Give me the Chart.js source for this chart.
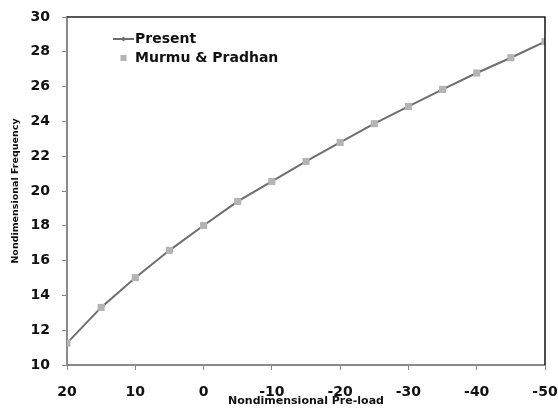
<!DOCTYPE html>
<html>
<head>
<meta charset="utf-8">
<script src="https://cdn.jsdelivr.net/npm/chart.js@4"></script>
<style>
  html, body { margin: 0; padding: 0; background: #fff; }
  #wrap { width: 558px; height: 408px; }
</style>
</head>
<body>
<div id="wrap"><canvas id="grafica" width="558" height="408"></canvas></div>
<script>
// Pre-carga adimensional (eje x invertido: de 20 a -50)
const preCarga = [20, 15, 10, 5, 0, -5, -10, -15, -20, -25, -30, -35, -40, -45, -50];
// Frecuencia adimensional
const frecPresent = [11.26, 13.31, 15.02, 16.59, 18.02, 19.40, 20.55, 21.70, 22.79, 23.87, 24.86, 25.84, 26.78, 27.66, 28.58];
const frecMurmu = [11.26, 13.31, 15.02, 16.59, 18.02, 19.40, 20.55, 21.70, 22.79, 23.87, 24.86, 25.84, 26.78, 27.66, 28.58];
const ticksX = [20, 10, 0, -10, -20, -30, -40, -50];
const ticksY = [10, 12, 14, 16, 18, 20, 22, 24, 26, 28, 30];

const fuente = '"DejaVu Sans", Verdana, sans-serif';

function puntos(xs, ys) {
    return xs.map((x, i) => ({ x: x, y: ys[i] }));
}

// Marco superior/derecho y leyenda dentro del área del gráfico
const marcoYLeyenda = {
    id: 'marcoYLeyenda',
    afterDraw(chart) {
        const { ctx, chartArea: a } = chart;
        ctx.save();
        ctx.strokeStyle = '#222';
        ctx.lineWidth = 1.6;
        ctx.beginPath();
        ctx.moveTo(a.left, a.top);
        ctx.lineTo(a.right, a.top);
        ctx.lineTo(a.right, a.bottom);
        ctx.stroke();

        // Leyenda
        const dsP = chart.data.datasets[1];
        const dsM = chart.data.datasets[0];
        ctx.font = 'bold 14px ' + fuente;
        ctx.textBaseline = 'middle';
        ctx.fillStyle = '#111';

        ctx.strokeStyle = dsP.borderColor;
        ctx.lineWidth = 2;
        ctx.beginPath();
        ctx.moveTo(113, 39);
        ctx.lineTo(134, 39);
        ctx.stroke();
        ctx.fillStyle = dsP.pointBackgroundColor;
        ctx.beginPath();
        ctx.moveTo(123.5, 36.5);
        ctx.lineTo(126, 39);
        ctx.lineTo(123.5, 41.5);
        ctx.lineTo(121, 39);
        ctx.closePath();
        ctx.fill();
        ctx.fillStyle = '#111';
        ctx.fillText(dsP.label, 135, 39);

        ctx.fillStyle = dsM.pointBackgroundColor;
        ctx.fillRect(120.5, 55, 6, 6);
        ctx.fillStyle = '#111';
        ctx.fillText(dsM.label, 135, 58);
        ctx.restore();
    }
};

new Chart(document.getElementById('grafica'), {
    type: 'scatter',
    data: {
        datasets: [{
            label: 'Murmu & Pradhan',
            data: puntos(preCarga, frecMurmu),
            showLine: false,
            pointStyle: 'rect',
            pointRadius: 5,
            pointBackgroundColor: '#b4b4b4',
            pointBorderColor: '#b4b4b4',
            pointBorderWidth: 0,
            order: 0
        }, {
            label: 'Present',
            data: puntos(preCarga, frecPresent),
            showLine: true,
            borderColor: '#6e6e6e',
            borderWidth: 2,
            tension: 0,
            pointStyle: 'rectRot',
            pointRadius: 2.5,
            pointBackgroundColor: '#6e6e6e',
            pointBorderWidth: 0,
            order: 1
        }]
    },
    options: {
        responsive: false,
        animation: false,
        devicePixelRatio: 1,
        layout: { padding: { top: 17, right: 13, left: 0, bottom: 0 } },
        plugins: {
            legend: { display: false },
            tooltip: { enabled: false }
        },
        scales: {
            x: {
                type: 'linear',
                reverse: true,
                min: -50,
                max: 20,
                afterBuildTicks(scale) {
                    scale.ticks = ticksX.map(v => ({ value: v }));
                },
                afterFit(scale) {
                    scale.height = 43;
                    scale.paddingLeft = 0;
                    scale.paddingRight = 0;
                },
                grid: {
                    drawOnChartArea: false,
                    drawTicks: true,
                    tickLength: 5,
                    color: '#8a8a8a',
                    lineWidth: 1
                },
                border: { color: '#8a8a8a', width: 2 },
                ticks: {
                    color: '#111',
                    padding: 14,
                    maxRotation: 0,
                    font: { family: fuente, size: 14, weight: 'bold' }
                },
                title: {
                    display: true,
                    text: 'Nondimensional Pre-load',
                    color: '#111',
                    padding: 0,
                    font: { family: fuente, size: 11, weight: 'bold' }
                }
            },
            y: {
                min: 10,
                max: 30,
                afterBuildTicks(scale) {
                    scale.ticks = ticksY.map(v => ({ value: v }));
                },
                afterFit(scale) {
                    scale.width = 67;
                    scale.paddingTop = 0;
                    scale.paddingBottom = 0;
                },
                grid: {
                    drawOnChartArea: false,
                    drawTicks: true,
                    tickLength: 5,
                    color: '#8a8a8a',
                    lineWidth: 1
                },
                border: { color: '#8a8a8a', width: 2 },
                ticks: {
                    color: '#111',
                    padding: 12,
                    font: { family: fuente, size: 14, weight: 'bold' }
                },
                title: {
                    display: true,
                    text: 'Nondimensional Frequency',
                    color: '#111',
                    padding: { top: 10, bottom: 0 },
                    font: { family: fuente, size: 9.5, weight: 'bold' }
                }
            }
        }
    },
    plugins: [marcoYLeyenda]
});
</script>
</body>
</html>
